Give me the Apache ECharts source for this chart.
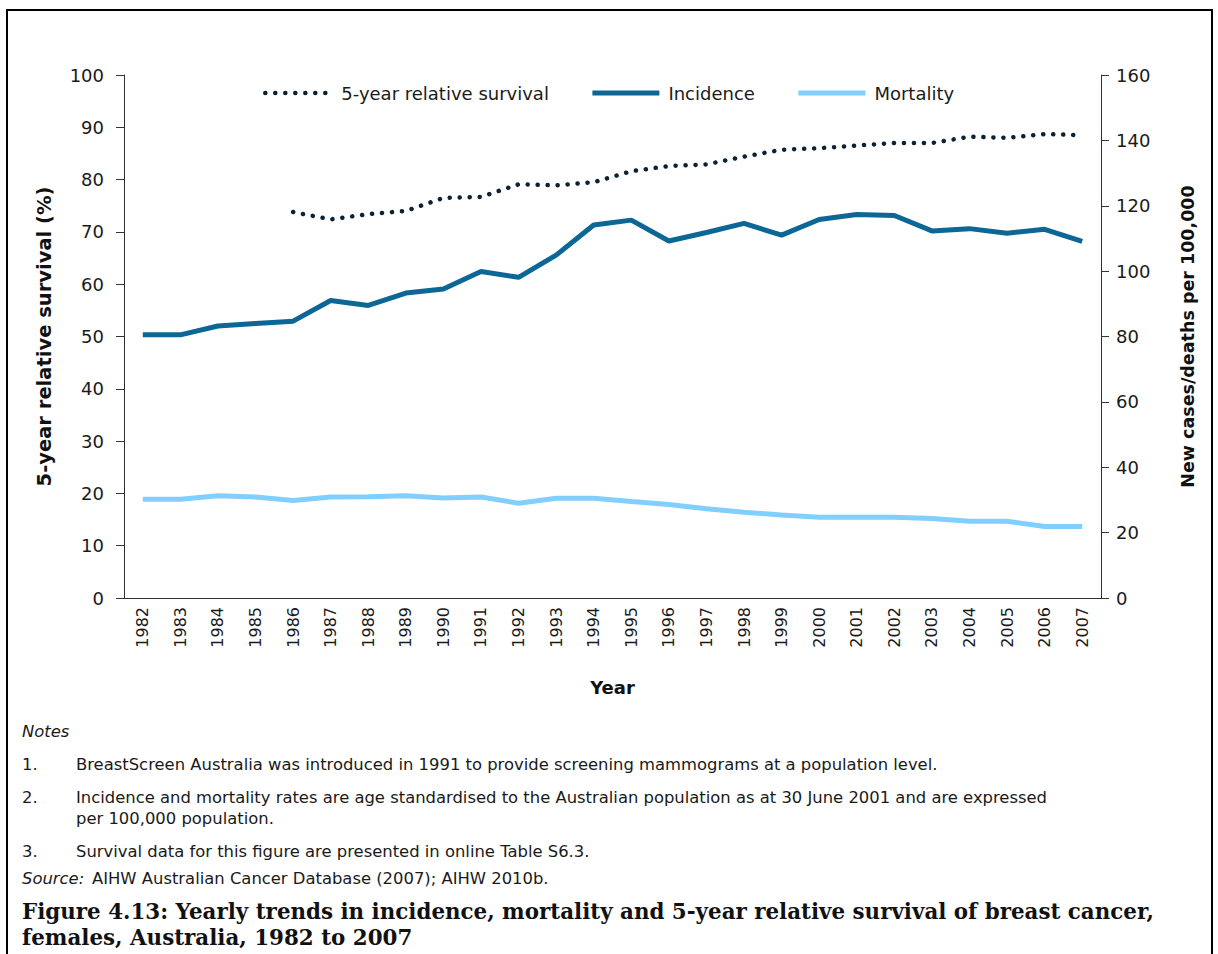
<!DOCTYPE html>
<html>
<head>
<meta charset="utf-8">
<script src="https://cdn.jsdelivr.net/npm/echarts@6/dist/echarts.min.js"></script>
<style>
html,body{margin:0;padding:0;background:#fff;}
#main{width:1218px;height:954px;}
</style>
</head>
<body>
<div id="main"></div>
<script>
var years = ['1982','1983','1984','1985','1986','1987','1988','1989','1990','1991','1992','1993','1994','1995','1996','1997','1998','1999','2000','2001','2002','2003','2004','2005','2006','2007'];
var survival = [null,null,null,null,73.8,72.4,73.4,74.0,76.5,76.7,79.1,78.9,79.5,81.6,82.6,82.9,84.4,85.7,86.0,86.5,87.0,87.0,88.2,88.0,88.7,88.5];
var incidence = [80.5,80.5,83.2,84.0,84.7,91.0,89.5,93.3,94.5,99.9,98.1,104.9,114.1,115.6,109.2,111.8,114.6,111.0,115.8,117.3,117.0,112.3,113.0,111.6,112.8,109.1];
var mortality = [30.2,30.2,31.3,30.9,29.8,30.9,31.0,31.3,30.6,30.9,29.0,30.5,30.5,29.5,28.6,27.3,26.2,25.4,24.7,24.7,24.7,24.3,23.5,23.5,21.9,21.9];
var leftTicks = {min:0, max:100, interval:10};
var rightTicks = {min:0, max:160, interval:20};

var FONT = '"DejaVu Sans", Verdana, sans-serif';
var SERIF = '"DejaVu Serif", serif';
var chart = echarts.init(document.getElementById('main'), null, {renderer:'svg'});
var axisCol = '#333';
var txt = '#1a1a1a';
var dotted = {color:'#0b2236', width:4.5, type:[0.1,9.9], cap:'round'};
function note(left, top, text, italic) {
  return {type:'text', left:left, top:top, style:{text:text, font:(italic ? 'italic ' : '') + '16.4px ' + FONT, fill:txt}};
}
chart.setOption({
  backgroundColor:'#fff',
  animation:false,
  textStyle:{fontFamily:FONT},
  grid:{left:124, right:117, top:75, bottom:356, containLabel:false},
  legend:{
    left:258, top:79, itemWidth:67, itemHeight:14, itemGap:41,
    itemStyle:{color:'rgba(0,0,0,0)', borderWidth:0},
    textStyle:{fontSize:18, color:txt, fontFamily:FONT, padding:[0,0,0,4]},
    data:[
      {name:'5-year relative survival', lineStyle:dotted},
      {name:'Incidence', lineStyle:{color:'#0c6797', width:5}},
      {name:'Mortality', lineStyle:{color:'#80cfff', width:5}}
    ]
  },
  xAxis:{
    type:'category', data:years, boundaryGap:true,
    axisLine:{lineStyle:{color:axisCol, width:1}},
    axisTick:{alignWithLabel:true, length:7, lineStyle:{color:axisCol}},
    axisLabel:{rotate:90, fontSize:16, color:txt, margin:9, fontFamily:FONT},
    name:'Year', nameLocation:'middle', nameGap:80,
    nameTextStyle:{fontSize:18, fontWeight:'bold', color:'#111', fontFamily:FONT}
  },
  yAxis:[{
    type:'value', min:leftTicks.min, max:leftTicks.max, interval:leftTicks.interval,
    position:'left',
    axisLine:{show:true, lineStyle:{color:axisCol, width:1}},
    axisTick:{show:true, length:8, lineStyle:{color:axisCol}},
    splitLine:{show:false},
    axisLabel:{fontSize:18, color:txt, margin:20, fontFamily:FONT},
    name:'5-year relative survival (%)', nameLocation:'middle', nameGap:70,
    nameTextStyle:{fontSize:19.5, fontWeight:'bold', color:'#111', fontFamily:FONT}
  },{
    type:'value', min:rightTicks.min, max:rightTicks.max, interval:rightTicks.interval,
    position:'right',
    axisLine:{show:true, lineStyle:{color:axisCol, width:1}},
    axisTick:{show:true, length:8, lineStyle:{color:axisCol}},
    splitLine:{show:false},
    axisLabel:{fontSize:18, color:txt, margin:15, fontFamily:FONT},
    name:'New cases/deaths per 100,000', nameLocation:'middle', nameGap:78, nameRotate:90,
    nameTextStyle:{fontSize:17.5, fontWeight:'bold', color:'#111', fontFamily:FONT}
  }],
  series:[{
    name:'5-year relative survival', type:'line', yAxisIndex:0, data:survival,
    symbol:'none', connectNulls:false, color:'#0b2236',
    lineStyle:dotted
  },{
    name:'Incidence', type:'line', yAxisIndex:1, data:incidence,
    symbol:'none', color:'#0c6797',
    lineStyle:{color:'#0c6797', width:5}
  },{
    name:'Mortality', type:'line', yAxisIndex:1, data:mortality,
    symbol:'none', color:'#80cfff',
    lineStyle:{color:'#80cfff', width:5}
  }],
  graphic:[
    {type:'rect', shape:{x:7, y:10, width:1205, height:960}, style:{fill:null, stroke:'#000', lineWidth:2}, silent:true},
    note(22, 723, 'Notes', true),
    note(22, 756, '1.'),
    note(76, 756, 'BreastScreen Australia was introduced in 1991 to provide screening mammograms at a population level.'),
    note(22, 789, '2.'),
    note(76, 789, 'Incidence and mortality rates are age standardised to the Australian population as at 30 June 2001 and are expressed'),
    note(76, 810, 'per 100,000 population.'),
    note(22, 843, '3.'),
    note(76, 843, 'Survival data for this figure are presented in online Table S6.3.'),
    note(22, 870, 'Source:', true),
    note(92, 870, 'AIHW Australian Cancer Database (2007); AIHW 2010b.'),
    {type:'text', left:22, top:901, style:{text:'Figure 4.13: Yearly trends in incidence, mortality and 5-year relative survival of breast cancer,', font:'bold 21.4px ' + SERIF, fill:'#111'}},
    {type:'text', left:22, top:927, style:{text:'females, Australia, 1982 to 2007', font:'bold 21.4px ' + SERIF, fill:'#111'}}
  ]
});
</script>
</body>
</html>
